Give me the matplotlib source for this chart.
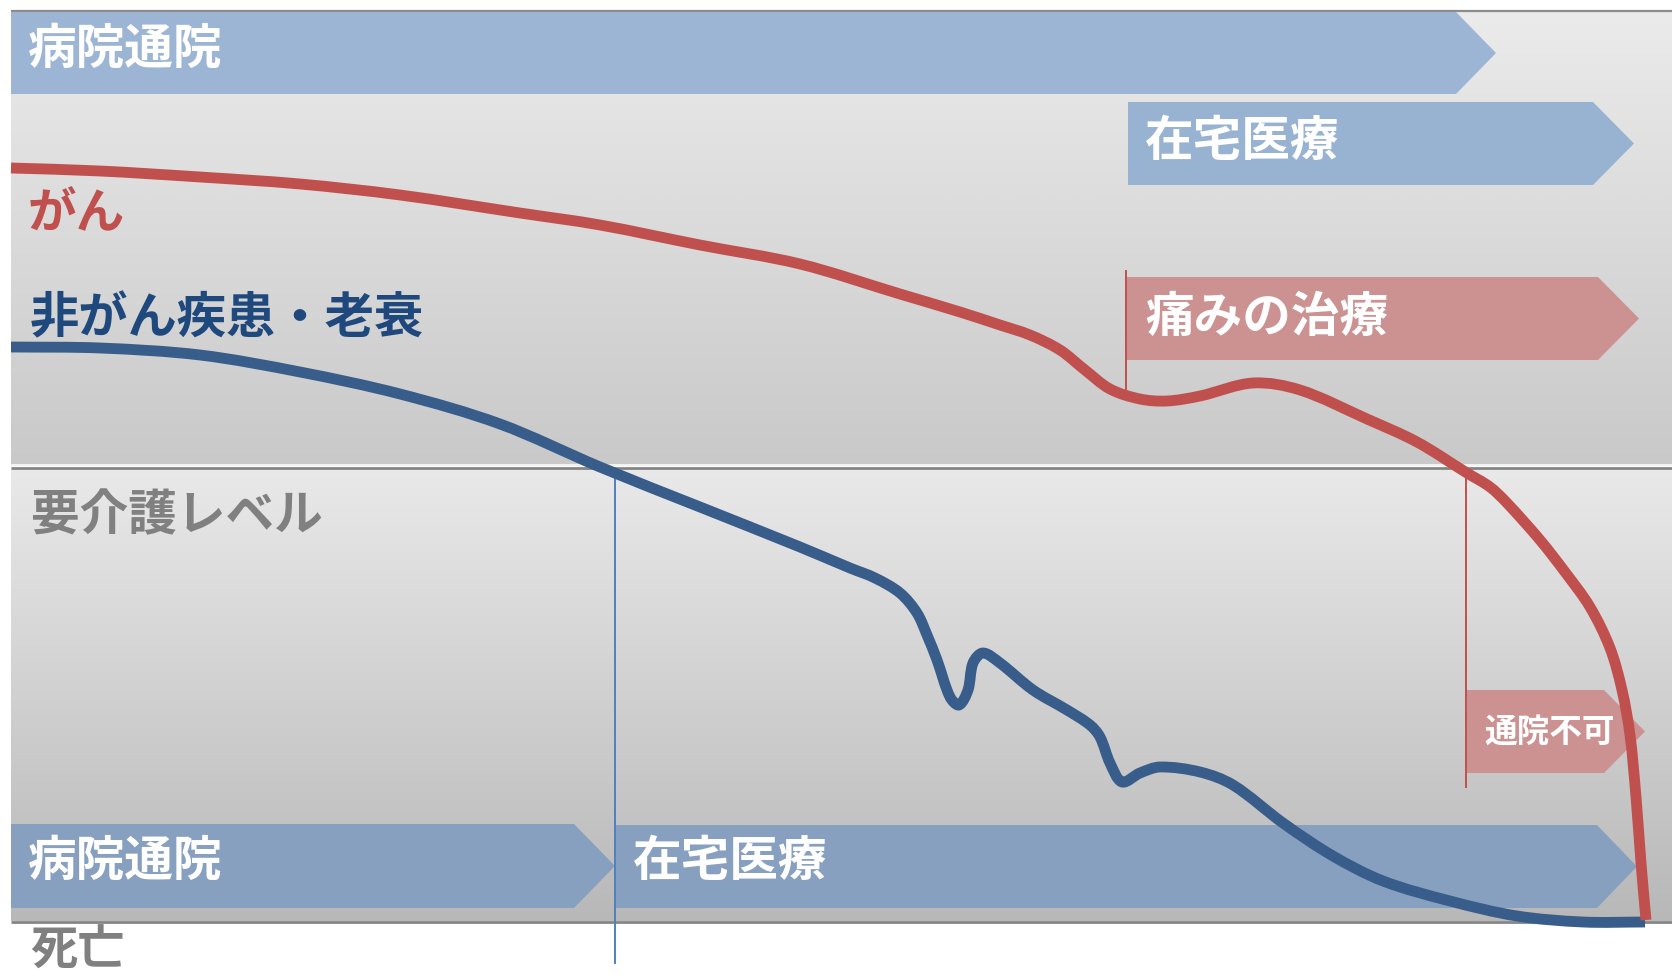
import numpy as np
import matplotlib
matplotlib.use("Agg")
import matplotlib.pyplot as plt
from matplotlib.path import Path
from matplotlib.patches import PathPatch, Polygon
from matplotlib.colors import LinearSegmentedColormap

plt.rcParams['font.family'] = ['Noto Sans CJK JP', 'DejaVu Sans']

# ---- data: course of the condition over time (time runs left to right,
#      larger level value = lower on the page = worse condition) ----
cancer_t = [11, 100, 200, 300, 400, 520, 600, 700, 800, 900, 960, 1000,
            1030, 1060, 1085, 1110, 1140, 1167, 1200, 1253, 1300, 1367,
            1417, 1467, 1490, 1507, 1540, 1565, 1590, 1610, 1622, 1630,
            1636, 1641, 1646]
cancer_level = [168, 171, 177, 184, 195, 213, 225, 245, 264, 294, 312, 325,
                335, 350, 370, 389, 399, 401, 396, 383, 390, 419,
                442, 473, 487, 503, 540, 572, 607, 648, 690, 735,
                797, 863, 920]

noncancer_t = [11, 100, 200, 300, 400, 500, 600, 700, 800, 850, 875, 900,
               917, 927, 937, 950, 959, 968, 973, 983, 1000, 1033, 1067,
               1090, 1100, 1110, 1122, 1140, 1160, 1200, 1233, 1283, 1333,
               1383, 1450, 1517, 1583, 1645]
noncancer_level = [347, 348, 355, 372, 394, 424, 467, 507, 547, 568, 578, 593,
                   613, 635, 660, 697, 705, 690, 663, 653, 663, 690, 710,
                   725, 737, 763, 782, 773, 767, 772, 785, 823, 856,
                   881, 901, 916, 922, 922]

# time points where the care setting changes
noncancer_home_care_start = 615
cancer_pain_care_start = 1126
cancer_no_visits_start = 1466

# labels
series_labels = ["がん", "非がん疾患・老衰"]
phase_labels = ["病院通院", "在宅医療", "痛みの治療", "通院不可"]
section_labels = ["要介護レベル", "死亡"]

# ---- colours ----
RED = "#C0504D"
BLUE = "#385D8A"
NAVY = "#1F497D"
GREY_TXT = "#808080"
BAND_TOP = "#9DB5D4"
BAND_HOME_TOP = "#98B2D2"
BAND_BOTTOM = "#87A0BF"
BAND_PINK = "#CC9191"

W, H = 1672, 976
fig = plt.figure(figsize=(W / 100, H / 100), dpi=100)
ax = fig.add_axes([0, 0, 1, 1])
ax.set_xlim(0, W)
ax.set_ylim(H, 0)
ax.axis("off")

left = 11
right = W


# background panels with vertical gradients
def gradient(y0, y1, c0, c1):
    cmap = LinearSegmentedColormap.from_list("g", [c0, c1])
    grad = np.linspace(0, 1, 256).reshape(-1, 1)
    ax.imshow(grad, cmap=cmap, extent=(left, right, y1, y0), aspect="auto",
              zorder=0, interpolation="bicubic")


gradient(11, 466, "#EBEBEB", "#C9C9C9")
gradient(468, 921, "#E9E9E9", "#B8B8B8")

# panel rules
ax.plot([left, right], [11, 11], color="#8C8C8C", lw=1.6, zorder=1,
        solid_capstyle="butt")
ax.plot([left, right], [465, 465], color="#F2F2F2", lw=1.5, zorder=1,
        solid_capstyle="butt")
ax.plot([left, right], [467.5, 467.5], color="#858585", lw=2.0, zorder=1,
        solid_capstyle="butt")
ax.plot([left, right], [921.5, 921.5], color="#858585", lw=2.0, zorder=1,
        solid_capstyle="butt")


def arrow(x0, xr, xt, y0, y1, color):
    ym = (y0 + y1) / 2
    poly = Polygon([(x0, y0), (xr, y0), (xt, ym), (xr, y1), (x0, y1)],
                   closed=True, facecolor=color, edgecolor="none", zorder=2)
    ax.add_patch(poly)


# phase arrows
arrow(left, 1456, 1496, 12, 94, BAND_TOP)                  # 病院通院 (top)
arrow(1128, 1593, 1634, 102, 185, BAND_HOME_TOP)           # 在宅医療 (top)
arrow(cancer_pain_care_start + 1, 1598, 1639, 277, 360, BAND_PINK)   # 痛みの治療
arrow(cancer_no_visits_start + 1, 1604, 1645, 690, 773, BAND_PINK)   # 通院不可
arrow(left, 574, noncancer_home_care_start, 824, 908, BAND_BOTTOM)   # 病院通院
arrow(noncancer_home_care_start + 1, 1597, 1637, 825, 908, BAND_BOTTOM)  # 在宅医療

# marker lines for care transitions
ax.plot([cancer_pain_care_start] * 2, [271, 392], color=RED, lw=1.4, zorder=3)
ax.plot([cancer_no_visits_start] * 2, [477, 787], color=RED, lw=1.4, zorder=3)
ax.plot([noncancer_home_care_start] * 2, [475, 963], color="#4F81BD", lw=1.4,
        zorder=3)


def smooth_path(xs, ys):
    """Chord-length Catmull-Rom curve through the points, as cubic Beziers."""
    pts = np.column_stack([xs, ys]).astype(float)
    n = len(pts)
    d = np.hypot(*np.diff(pts, axis=0).T)
    t = np.concatenate([[0], np.cumsum(d)])
    m = np.zeros_like(pts)
    m[0] = (pts[1] - pts[0]) / (t[1] - t[0])
    m[-1] = (pts[-1] - pts[-2]) / (t[-1] - t[-2])
    for i in range(1, n - 1):
        m[i] = (pts[i + 1] - pts[i - 1]) / (t[i + 1] - t[i - 1])
    verts = [pts[0]]
    codes = [Path.MOVETO]
    for i in range(n - 1):
        h = t[i + 1] - t[i]
        verts += [pts[i] + m[i] * h / 3, pts[i + 1] - m[i + 1] * h / 3,
                  pts[i + 1]]
        codes += [Path.CURVE4] * 3
    return Path(verts, codes)


ax.add_patch(PathPatch(smooth_path(noncancer_t, noncancer_level), fill=False,
                       edgecolor=BLUE, lw=7.8, capstyle="butt",
                       joinstyle="round", zorder=4))
ax.add_patch(PathPatch(smooth_path(cancer_t, cancer_level), fill=False,
                       edgecolor=RED, lw=7.8, capstyle="butt",
                       joinstyle="round", zorder=5))

# text
big = 35
kw = dict(fontweight="bold", va="center", ha="left", zorder=6)
ax.text(28, 50, phase_labels[0], color="white", fontsize=big, **kw)
ax.text(1145, 141, phase_labels[1], color="white", fontsize=big, **kw)
ax.text(1145, 318, phase_labels[2], color="white", fontsize=big, **kw)
ax.text(1484, 732, phase_labels[3], color="white", fontsize=23.5, **kw)
ax.text(28, 862, phase_labels[0], color="white", fontsize=big, **kw)
ax.text(633, 862, phase_labels[1], color="white", fontsize=big, **kw)

ax.text(28, 214, series_labels[0], color=RED, fontsize=big, **kw)
ax.text(30, 319, series_labels[1], color=NAVY, fontsize=35.5, **kw)
ax.text(31, 516, section_labels[0], color=GREY_TXT, fontsize=big, **kw)
ax.text(30, 951, section_labels[1], color=GREY_TXT, fontsize=34, **kw)

fig.savefig("out.png", dpi=100, facecolor="white")
